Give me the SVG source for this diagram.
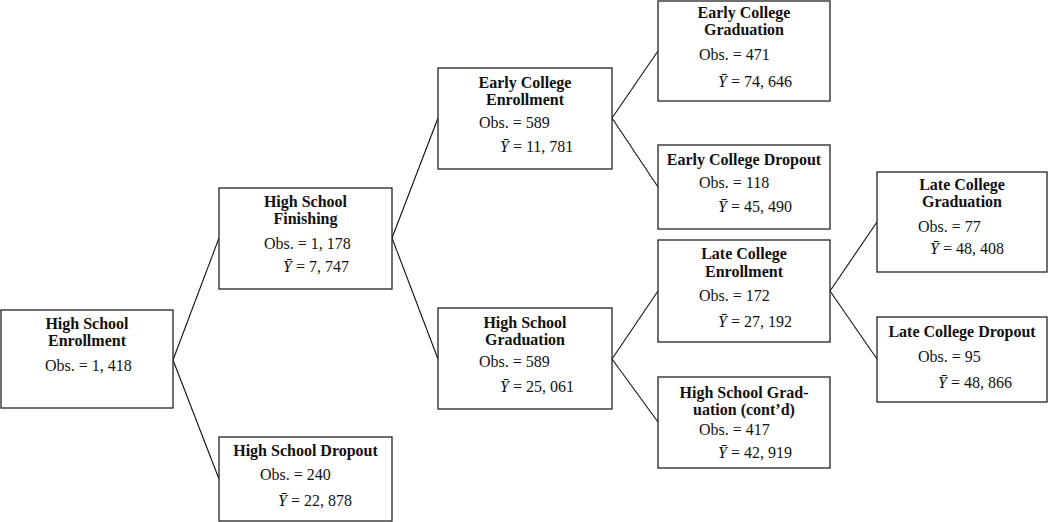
<svg xmlns="http://www.w3.org/2000/svg" width="1050" height="522" viewBox="0 0 1050 522">
<style>
.box{fill:#fff;stroke:#222;stroke-width:1.3}
.t{font-family:"Liberation Serif","DejaVu Serif",serif;font-size:16px;font-weight:bold;fill:#111;text-anchor:middle}
.v{font-family:"Liberation Serif","DejaVu Serif",serif;font-size:16px;fill:#111}
.i{font-style:italic}
#connectors line{stroke:#111;stroke-width:1.1}
</style>
<rect width="1050" height="522" fill="#fff"/>
<g id="connectors">
<line x1="173" y1="360" x2="219" y2="238"/>
<line x1="173" y1="360" x2="219" y2="479"/>
<line x1="392" y1="238" x2="438" y2="118"/>
<line x1="392" y1="238" x2="438" y2="359"/>
<line x1="612" y1="118" x2="658" y2="51"/>
<line x1="612" y1="118" x2="658" y2="187"/>
<line x1="612" y1="359" x2="658" y2="291"/>
<line x1="612" y1="359" x2="658" y2="422"/>
<line x1="830" y1="291" x2="877" y2="222"/>
<line x1="830" y1="291" x2="877" y2="359"/>
</g>
<g id="hs-enrollment">
<rect class="box" x="1" y="310" width="172" height="98"/>
<text class="t" x="87" y="329">High School</text>
<text class="t" x="87" y="346">Enrollment</text>
<text class="v" x="45" y="371">Obs. = 1, 418</text>
</g>
<g id="hs-finishing">
<rect class="box" x="219" y="188" width="173" height="101"/>
<text class="t" x="305.5" y="207">High School</text>
<text class="t" x="305.5" y="224">Finishing</text>
<text class="v" x="264" y="249">Obs. = 1, 178</text>
<text class="v" x="283" y="272"><tspan class="i">Ȳ</tspan> = 7, 747</text>
</g>
<g id="hs-dropout">
<rect class="box" x="219" y="437" width="173" height="84"/>
<text class="t" x="305.5" y="456">High School Dropout</text>
<text class="v" x="260" y="480">Obs. = 240</text>
<text class="v" x="278" y="506"><tspan class="i">Ȳ</tspan> = 22, 878</text>
</g>
<g id="early-college-enrollment">
<rect class="box" x="438" y="68" width="174" height="101"/>
<text class="t" x="525" y="88">Early College</text>
<text class="t" x="525" y="105">Enrollment</text>
<text class="v" x="479" y="128">Obs. = 589</text>
<text class="v" x="500" y="152"><tspan class="i">Ȳ</tspan> = 11, 781</text>
</g>
<g id="hs-graduation">
<rect class="box" x="438" y="308" width="174" height="101"/>
<text class="t" x="525" y="328">High School</text>
<text class="t" x="525" y="345">Graduation</text>
<text class="v" x="479" y="367">Obs. = 589</text>
<text class="v" x="500" y="392"><tspan class="i">Ȳ</tspan> = 25, 061</text>
</g>
<g id="early-college-graduation">
<rect class="box" x="658" y="1" width="172" height="100"/>
<text class="t" x="744" y="18">Early College</text>
<text class="t" x="744" y="35">Graduation</text>
<text class="v" x="699" y="60">Obs. = 471</text>
<text class="v" x="718" y="87"><tspan class="i">Ȳ</tspan> = 74, 646</text>
</g>
<g id="early-college-dropout">
<rect class="box" x="658" y="145" width="172" height="84"/>
<text class="t" x="744" y="165">Early College Dropout</text>
<text class="v" x="699" y="188">Obs. = 118</text>
<text class="v" x="718" y="212"><tspan class="i">Ȳ</tspan> = 45, 490</text>
</g>
<g id="late-college-enrollment">
<rect class="box" x="658" y="240" width="172" height="102"/>
<text class="t" x="744" y="259">Late College</text>
<text class="t" x="744" y="277">Enrollment</text>
<text class="v" x="699" y="301">Obs. = 172</text>
<text class="v" x="718" y="327"><tspan class="i">Ȳ</tspan> = 27, 192</text>
</g>
<g id="hs-graduation-contd">
<rect class="box" x="658" y="377" width="172" height="91"/>
<text class="t" x="744" y="398">High School Grad-</text>
<text class="t" x="744" y="415">uation (cont’d)</text>
<text class="v" x="699" y="435">Obs. = 417</text>
<text class="v" x="718" y="458"><tspan class="i">Ȳ</tspan> = 42, 919</text>
</g>
<g id="late-college-graduation">
<rect class="box" x="877" y="172" width="170" height="100"/>
<text class="t" x="962" y="190">Late College</text>
<text class="t" x="962" y="207">Graduation</text>
<text class="v" x="918" y="232">Obs. = 77</text>
<text class="v" x="930" y="254"><tspan class="i">Ȳ</tspan> = 48, 408</text>
</g>
<g id="late-college-dropout">
<rect class="box" x="877" y="317" width="170" height="85"/>
<text class="t" x="962" y="337">Late College Dropout</text>
<text class="v" x="918" y="362">Obs. = 95</text>
<text class="v" x="938" y="388"><tspan class="i">Ȳ</tspan> = 48, 866</text>
</g>
</svg>
